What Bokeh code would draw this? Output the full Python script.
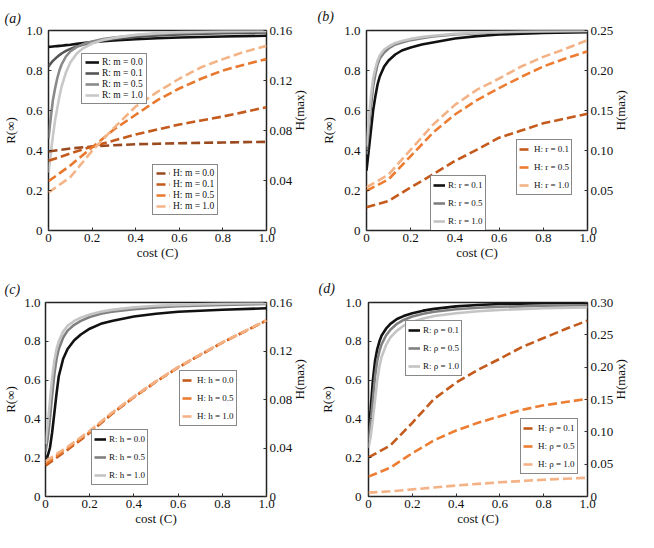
import math
from bokeh.plotting import figure
from bokeh.models import (Range1d, LinearAxis, FixedTicker, Legend, LegendItem)
from bokeh.layouts import column, row
from bokeh.embed import file_html
from bokeh.resources import INLINE

FONT = "Liberation Serif"

# ---------------- data ----------------
C_FINE = [0.0, 0.01, 0.02, 0.03, 0.04, 0.05, 0.06, 0.08, 0.1, 0.13, 0.16, 0.2,
          0.25, 0.3, 0.4, 0.5, 0.6, 0.8, 1.0]
C_COARSE = [0.0, 0.1, 0.2, 0.3, 0.4, 0.5, 0.6, 0.7, 0.8, 0.9, 1.0]

X_TICKS = [0, 0.2, 0.4, 0.6, 0.8, 1.0]
X_TICK_LABELS = ["0", "0.2", "0.4", "0.6", "0.8", "1.0"]
R_TICKS = [0, 0.2, 0.4, 0.6, 0.8, 1.0]
R_TICK_LABELS = ["0", "0.2", "0.4", "0.6", "0.8", "1.0"]
X_LABEL = "cost (C)"
R_LABEL = "R(\u221e)"
H_LABEL = "H(max)"

# panel (a)
A_R_LABELS = ["R: m = 0.0", "R: m = 0.1", "R: m = 0.5", "R: m = 1.0"]
A_R_M00 = [0.918, 0.919, 0.920, 0.921, 0.922, 0.923, 0.924, 0.927, 0.929, 0.933, 0.937,
           0.942, 0.946, 0.950, 0.956, 0.961, 0.965, 0.970, 0.974]
A_R_M01 = [0.820, 0.835, 0.848, 0.858, 0.868, 0.877, 0.885, 0.898, 0.908, 0.920, 0.930,
           0.940, 0.950, 0.958, 0.968, 0.975, 0.980, 0.986, 0.990]
A_R_M05 = [0.46, 0.56, 0.65, 0.71, 0.76, 0.80, 0.83, 0.87, 0.895, 0.918, 0.932,
           0.945, 0.957, 0.965, 0.976, 0.983, 0.988, 0.993, 0.996]
A_R_M10 = [0.29, 0.38, 0.47, 0.55, 0.61, 0.67, 0.72, 0.79, 0.84, 0.885, 0.912,
           0.935, 0.952, 0.963, 0.978, 0.987, 0.992, 0.996, 0.998]
A_H_LABELS = ["H: m = 0.0", "H: m = 0.1", "H: m = 0.5", "H: m = 1.0"]
A_H_M00 = [0.0632, 0.0656, 0.0672, 0.0682, 0.0690, 0.0694, 0.0698, 0.0701, 0.0704, 0.0707, 0.0709]
A_H_M01 = [0.0558, 0.0616, 0.0672, 0.0720, 0.0768, 0.0808, 0.0848, 0.0880, 0.0912, 0.0949, 0.0986]
A_H_M05 = [0.0394, 0.0520, 0.0664, 0.0808, 0.0926, 0.1043, 0.1136, 0.1214, 0.1280, 0.1328, 0.1371]
A_H_M10 = [0.0304, 0.0427, 0.0637, 0.0821, 0.0992, 0.1109, 0.1214, 0.1306, 0.1371, 0.1430, 0.1477]
A_H_TICKS = [0, 0.04, 0.08, 0.12, 0.16]
A_H_TICK_LABELS = ["0", "0.04", "0.08", "0.12", "0.16"]

# panel (b)
B_R_LABELS = ["R: r = 0.1", "R: r = 0.5", "R: r = 1.0"]
B_R_R01 = [0.30, 0.40, 0.50, 0.60, 0.67, 0.73, 0.77, 0.82, 0.85, 0.88, 0.90,
           0.915, 0.93, 0.94, 0.96, 0.972, 0.98, 0.988, 0.992]
B_R_R05 = [0.38, 0.50, 0.62, 0.72, 0.78, 0.83, 0.86, 0.89, 0.91, 0.93, 0.94,
           0.952, 0.962, 0.97, 0.98, 0.986, 0.99, 0.995, 0.997]
B_R_R10 = [0.42, 0.55, 0.67, 0.76, 0.81, 0.85, 0.875, 0.905, 0.92, 0.938, 0.948,
           0.958, 0.967, 0.974, 0.983, 0.989, 0.993, 0.997, 0.999]
B_H_LABELS = ["H: r = 0.1", "H: r = 0.5", "H: r = 1.0"]
B_H_R01 = [0.029, 0.037, 0.054, 0.070, 0.087, 0.101, 0.116, 0.125, 0.134, 0.140, 0.146]
B_H_R05 = [0.0496, 0.064, 0.093, 0.122, 0.145, 0.163, 0.178, 0.192, 0.205, 0.215, 0.224]
B_H_R10 = [0.054, 0.070, 0.101, 0.132, 0.157, 0.176, 0.190, 0.205, 0.217, 0.227, 0.238]
B_H_TICKS = [0, 0.05, 0.10, 0.15, 0.20, 0.25]
B_H_TICK_LABELS = ["0", "0.05", "0.10", "0.15", "0.20", "0.25"]

# panel (c)
C_R_LABELS = ["R: h = 0.0", "R: h = 0.5", "R: h = 1.0"]
C_R_H00 = [0.19, 0.21, 0.25, 0.33, 0.43, 0.53, 0.62, 0.71, 0.76, 0.805, 0.835,
           0.865, 0.89, 0.905, 0.928, 0.942, 0.952, 0.963, 0.970]
C_R_H05 = [0.23, 0.30, 0.40, 0.52, 0.63, 0.71, 0.76, 0.82, 0.855, 0.885, 0.905,
           0.925, 0.942, 0.952, 0.966, 0.975, 0.981, 0.988, 0.992]
C_R_H10 = [0.27, 0.37, 0.49, 0.61, 0.70, 0.76, 0.80, 0.85, 0.88, 0.905, 0.922,
           0.938, 0.952, 0.962, 0.975, 0.983, 0.988, 0.994, 0.997]
C_H_LABELS = ["H: h = 0.0", "H: h = 0.5", "H: h = 1.0"]
C_H_H00 = [0.0255, 0.0385, 0.0525, 0.0680, 0.0818, 0.0946, 0.1063, 0.1167, 0.1269, 0.1360, 0.1452]
C_H_H05 = [0.0272, 0.0398, 0.0533, 0.0686, 0.0821, 0.0949, 0.1066, 0.1169, 0.1270, 0.1361, 0.1452]
C_H_H10 = [0.0290, 0.0410, 0.0542, 0.0691, 0.0824, 0.0950, 0.1067, 0.1170, 0.1271, 0.1362, 0.1453]
C_H_TICKS = [0, 0.04, 0.08, 0.12, 0.16]
C_H_TICK_LABELS = ["0", "0.04", "0.08", "0.12", "0.16"]

# panel (d)
D_R_LABELS = ["R: \u03c1 = 0.1", "R: \u03c1 = 0.5", "R: \u03c1 = 1.0"]
D_R_P01 = [0.33, 0.45, 0.60, 0.70, 0.76, 0.80, 0.83, 0.865, 0.89, 0.915, 0.93,
           0.945, 0.958, 0.967, 0.98, 0.987, 0.992, 0.996, 0.998]
D_R_P05 = [0.29, 0.38, 0.50, 0.62, 0.70, 0.75, 0.785, 0.83, 0.86, 0.89, 0.91,
           0.928, 0.942, 0.952, 0.965, 0.973, 0.978, 0.983, 0.986]
D_R_P10 = [0.25, 0.31, 0.40, 0.50, 0.60, 0.67, 0.72, 0.78, 0.82, 0.855, 0.88,
           0.90, 0.918, 0.93, 0.945, 0.955, 0.962, 0.97, 0.975]
D_H_LABELS = ["H: \u03c1 = 0.1", "H: \u03c1 = 0.5", "H: \u03c1 = 1.0"]
D_H_P01 = [0.0605, 0.079, 0.114, 0.151, 0.176, 0.196, 0.213, 0.231, 0.245, 0.259, 0.272]
D_H_P05 = [0.0307, 0.0446, 0.067, 0.087, 0.102, 0.114, 0.124, 0.134, 0.141, 0.146, 0.151]
D_H_P10 = [0.006, 0.008, 0.011, 0.014, 0.017, 0.0195, 0.022, 0.024, 0.026, 0.0275, 0.029]
D_H_TICKS = [0, 0.05, 0.10, 0.15, 0.20, 0.25, 0.30]
D_H_TICK_LABELS = ["0", "0.05", "0.10", "0.15", "0.20", "0.25", "0.30"]

GREYS4 = ["#111111", "#555555", "#8a8a8a", "#c8c8c8"]
GREYS3 = ["#111111", "#808080", "#c4c4c4"]
ORANGES4 = ["#9b4a1f", "#c45a1c", "#e8782e", "#f3b488"]
ORANGES3 = ["#c45a1c", "#ec7d32", "#f4b287"]

FIG_H = 266


def style_axis(ax, ticks, labels, lab_standoff, ax_standoff):
    ax.ticker = FixedTicker(ticks=ticks)
    ax.major_label_overrides = {float(t): l for t, l in zip(ticks, labels)}
    ax.axis_line_color = None
    ax.major_tick_in = 3
    ax.major_tick_out = 0
    ax.major_tick_line_color = "#333333"
    ax.minor_tick_line_color = None
    ax.major_label_text_font = FONT
    ax.major_label_text_font_size = "13px"
    ax.major_label_text_color = "#111111"
    ax.major_label_standoff = lab_standoff
    ax.axis_label_text_font = FONT
    ax.axis_label_text_font_size = "13px"
    ax.axis_label_text_font_style = "normal"
    ax.axis_label_text_color = "#111111"
    ax.axis_label_standoff = ax_standoff


def make_legend(items, loc, item_h, spacing, pad, glyph_w, font_size):
    leg = Legend(items=items, location=loc)
    leg.border_line_color = "#111111"
    leg.border_line_width = 1.5
    leg.background_fill_color = "white"
    leg.background_fill_alpha = 1.0
    leg.label_text_font = FONT
    leg.label_text_font_size = font_size
    leg.label_text_color = "#111111"
    leg.glyph_width = glyph_w
    leg.glyph_height = item_h
    leg.label_height = item_h
    leg.label_standoff = 3
    leg.spacing = spacing
    leg.padding = pad
    leg.margin = 0
    return leg


def make_panel(tag, width, borders, title_standoff, r_series, r_labels, r_colors,
               h_series, h_labels, h_colors, h_max, h_ticks, h_tick_labels,
               r_loc, h_loc, leg_style, standoffs):
    left, right, top, bottom = borders
    p = figure(width=width, height=FIG_H, x_range=Range1d(0, 1), y_range=Range1d(0, 1),
               output_backend="svg", toolbar_location=None,
               min_border_left=left, min_border_right=right,
               min_border_top=top, min_border_bottom=bottom)
    p.extra_y_ranges = {"h": Range1d(0, h_max)}
    p.xgrid.visible = False
    p.ygrid.visible = False
    p.outline_line_color = "#222222"
    p.outline_line_width = 1.5
    p.border_fill_color = "white"
    p.background_fill_color = "white"

    p.title.text = tag
    p.title.align = "left"
    p.title.offset = -left
    p.title.standoff = title_standoff
    p.title.text_font = FONT
    p.title.text_font_size = "14px"
    p.title.text_font_style = "italic"
    p.title.text_color = "#111111"

    p.xaxis.axis_label = X_LABEL
    p.yaxis.axis_label = R_LABEL
    style_axis(p.xaxis[0], X_TICKS, X_TICK_LABELS, standoffs[0], standoffs[1])
    style_axis(p.yaxis[0], R_TICKS, R_TICK_LABELS, standoffs[2], standoffs[3])

    # right-hand H axis (ticks) ...
    hax = LinearAxis(y_range_name="h")
    style_axis(hax, h_ticks, h_tick_labels, standoffs[4], 0)
    p.add_layout(hax, "right")
    # ... and its title as one rotated label reading bottom-to-top
    mid = h_max / 2.0
    hlab = LinearAxis(y_range_name="h")
    style_axis(hlab, [mid], [H_LABEL], standoffs[5], 0)
    hlab.major_tick_in = 0
    hlab.major_tick_line_color = None
    hlab.major_label_orientation = math.pi / 2
    p.add_layout(hlab, "right")

    r_items = []
    for ys, lab, col in zip(r_series, r_labels, r_colors):
        rr = p.line(C_FINE, ys, line_color=col, line_width=2.6)
        r_items.append(LegendItem(label=lab, renderers=[rr]))
    h_items = []
    for ys, lab, col in zip(h_series, h_labels, h_colors):
        rr = p.line(C_COARSE, ys, line_color=col, line_width=2.6, line_dash="9 4",
                    y_range_name="h")
        h_items.append(LegendItem(label=lab, renderers=[rr]))

    p.add_layout(make_legend(r_items, r_loc, *leg_style))
    p.add_layout(make_legend(h_items, h_loc, *leg_style))
    return p


LEG4 = (8, 1, 3, 14, "9.5px")
LEG3 = (14, 4, 2, 12, "9px")

pa = make_panel("(a)", 317, (44, 10, 26, 36), 9,
                [A_R_M00, A_R_M01, A_R_M05, A_R_M10], A_R_LABELS, GREYS4,
                [A_H_M00, A_H_M01, A_H_M05, A_H_M10], A_H_LABELS, ORANGES4,
                0.16, A_H_TICKS, A_H_TICK_LABELS, (33, 126), (104, 15),
                LEG4, (3, 0, 6, 5, 3, 4))
pb = make_panel("(b)", 321, (49, 10, 29, 36), 13,
                [B_R_R01, B_R_R05, B_R_R10], B_R_LABELS, GREYS3,
                [B_H_R01, B_H_R05, B_H_R10], B_H_LABELS, ORANGES3,
                0.25, B_H_TICKS, B_H_TICK_LABELS, (64, -1), (150, 35),
                LEG3, (3, 0, 6, 5, 3, 4))
pc = make_panel("(c)", 317, (41, 10, 36, 36), 12,
                [C_R_H00, C_R_H05, C_R_H10], C_R_LABELS, GREYS3,
                [C_H_H00, C_H_H05, C_H_H10], C_H_LABELS, ORANGES3,
                0.16, C_H_TICKS, C_H_TICK_LABELS, (46, 11), (134, 70),
                LEG3, (3, 0, 5, 3, 3, 4))
pd_ = make_panel("(d)", 321, (50, 10, 32, 36), 13,
                 [D_R_P01, D_R_P05, D_R_P10], D_R_LABELS, GREYS3,
                 [D_H_P01, D_H_P05, D_H_P10], D_H_LABELS, ORANGES3,
                 0.30, D_H_TICKS, D_H_TICK_LABELS, (37, 120), (152, 22),
                 LEG3, (3, 0, 7, 7, 3, 4))

layout = column(row(pa, pb), row(pc, pd_))
open("out.html", "w").write(file_html(layout, INLINE))
